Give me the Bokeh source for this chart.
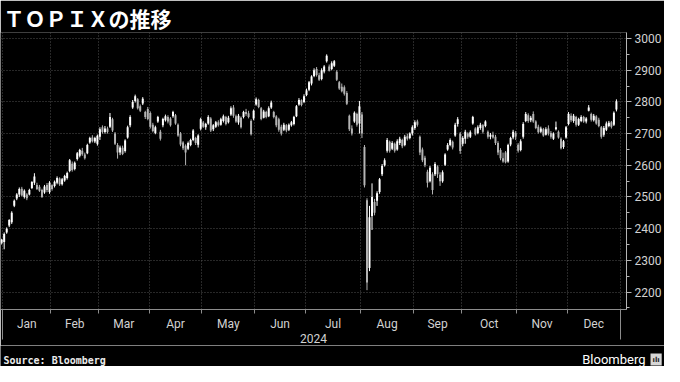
import pandas as pd
from bokeh.plotting import figure
from bokeh.layouts import column
from bokeh.models import (ColumnDataSource, Range1d, FixedTicker, SingleIntervalTicker,
                          Label, LinearAxis)
from bokeh.embed import file_html
from bokeh.resources import INLINE

# ---------------- data ----------------
title_text = "ＴＯＰＩＸの推移"
source_text = "Source: Bloomberg"
brand_text = "Bloomberg"
year_text = "2024"
month_names = ["Jan", "Feb", "Mar", "Apr", "May", "Jun",
               "Jul", "Aug", "Sep", "Oct", "Nov", "Dec"]

first_session = "2023-12-29"
last_calendar_session = "2024-12-30"
tse_holidays = ["2024-01-01", "2024-01-02", "2024-01-03", "2024-01-08",
                "2024-02-12", "2024-02-23", "2024-03-20", "2024-04-29",
                "2024-05-03", "2024-05-06", "2024-07-15", "2024-08-12",
                "2024-09-16", "2024-09-23", "2024-10-14", "2024-11-04"]

open_ = [2356, 2358, 2388, 2410, 2420, 2472, 2495, 2508, 2526, 2500,
         2508, 2508, 2528, 2545, 2538, 2532, 2522, 2514, 2538, 2516,
         2537, 2535, 2545, 2558, 2540, 2552, 2560, 2582, 2605, 2588,
         2620, 2630, 2646, 2634, 2638, 2672, 2688, 2675, 2668, 2690,
         2720, 2705, 2716, 2722, 2745, 2700, 2664, 2640, 2655, 2645,
         2688, 2726, 2782, 2803, 2808, 2786, 2795, 2768, 2778, 2765,
         2728, 2702, 2738, 2706, 2726, 2742, 2752, 2748, 2755, 2758,
         2728, 2700, 2672, 2662, 2652, 2664, 2680, 2686, 2665, 2715,
         2735, 2720, 2732, 2748, 2714, 2722, 2736, 2728, 2740, 2752,
         2736, 2760, 2782, 2755, 2735, 2750, 2752, 2768, 2764, 2740,
         2748, 2792, 2806, 2780, 2750, 2768, 2755, 2782, 2768, 2754,
         2745, 2722, 2712, 2726, 2712, 2726, 2730, 2755, 2792, 2805,
         2800, 2822, 2838, 2858, 2882, 2904, 2884, 2872, 2896, 2928,
         2912, 2904, 2914, 2895, 2862, 2848, 2846, 2828, 2756, 2716,
         2738, 2762, 2732, 2760, 2658, 2490, 2276, 2440, 2484, 2488,
         2516, 2572, 2600, 2646, 2674, 2652, 2668, 2650, 2670, 2680,
         2664, 2692, 2686, 2700, 2718, 2738, 2690, 2650, 2624, 2580,
         2550, 2572, 2572, 2596, 2570, 2550, 2602, 2650, 2664, 2674,
         2694, 2730, 2700, 2668, 2684, 2700, 2690, 2732, 2716, 2702,
         2718, 2726, 2724, 2706, 2690, 2696, 2690, 2670, 2648, 2622,
         2640, 2612, 2666, 2688, 2702, 2665, 2648, 2690, 2740, 2758,
         2742, 2762, 2738, 2722, 2706, 2714, 2696, 2716, 2702, 2684,
         2714, 2706, 2684, 2658, 2688, 2730, 2756, 2740, 2752, 2728,
         2740, 2752, 2738, 2772, 2762, 2742, 2754, 2744, 2720, 2696,
         2712, 2724, 2736, 2728, 2776]

high = [2368, 2388, 2404, 2430, 2455, 2492, 2512, 2530, 2532, 2524,
        2512, 2526, 2550, 2575, 2545, 2538, 2526, 2538, 2544, 2550,
        2540, 2552, 2565, 2562, 2560, 2570, 2580, 2620, 2612, 2612,
        2642, 2652, 2655, 2640, 2668, 2690, 2695, 2690, 2697, 2720,
        2726, 2724, 2722, 2765, 2750, 2705, 2670, 2662, 2662, 2682,
        2725, 2758, 2806, 2823, 2812, 2792, 2815, 2772, 2784, 2770,
        2734, 2725, 2756, 2712, 2750, 2760, 2758, 2752, 2772, 2762,
        2732, 2705, 2676, 2666, 2675, 2684, 2714, 2690, 2698, 2750,
        2740, 2734, 2758, 2752, 2730, 2740, 2742, 2750, 2760, 2756,
        2756, 2786, 2790, 2760, 2762, 2754, 2772, 2778, 2772, 2745,
        2776, 2814, 2810, 2784, 2775, 2772, 2786, 2804, 2772, 2758,
        2750, 2728, 2734, 2730, 2732, 2740, 2756, 2790, 2812, 2808,
        2824, 2842, 2866, 2884, 2906, 2910, 2892, 2906, 2916, 2950,
        2918, 2928, 2932, 2900, 2866, 2858, 2852, 2834, 2760, 2726,
        2770, 2766, 2803, 2768, 2664, 2496, 2472, 2543, 2494, 2518,
        2560, 2604, 2622, 2686, 2678, 2676, 2672, 2682, 2690, 2684,
        2696, 2700, 2704, 2726, 2742, 2744, 2694, 2656, 2630, 2586,
        2598, 2578, 2610, 2600, 2578, 2584, 2638, 2670, 2685, 2678,
        2734, 2752, 2705, 2692, 2712, 2704, 2710, 2756, 2720, 2726,
        2734, 2730, 2742, 2710, 2702, 2706, 2696, 2676, 2654, 2640,
        2645, 2668, 2690, 2712, 2708, 2670, 2682, 2736, 2768, 2764,
        2756, 2770, 2742, 2728, 2722, 2718, 2720, 2726, 2708, 2704,
        2738, 2710, 2688, 2680, 2724, 2768, 2764, 2762, 2756, 2750,
        2758, 2756, 2752, 2790, 2766, 2762, 2758, 2750, 2724, 2724,
        2738, 2740, 2740, 2770, 2808]

low = [2350, 2335, 2384, 2405, 2415, 2468, 2490, 2500, 2502, 2495,
       2490, 2505, 2525, 2538, 2522, 2516, 2497, 2510, 2515, 2510,
       2520, 2530, 2540, 2535, 2536, 2548, 2555, 2578, 2580, 2584,
       2615, 2625, 2630, 2618, 2635, 2668, 2672, 2670, 2662, 2680,
       2700, 2700, 2700, 2718, 2705, 2664, 2621, 2632, 2632, 2640,
       2684, 2720, 2778, 2798, 2776, 2768, 2790, 2746, 2742, 2716,
       2704, 2698, 2734, 2678, 2720, 2738, 2732, 2722, 2750, 2728,
       2690, 2660, 2648, 2600, 2648, 2660, 2676, 2664, 2656, 2710,
       2718, 2712, 2728, 2705, 2708, 2718, 2722, 2725, 2735, 2726,
       2732, 2756, 2750, 2734, 2728, 2716, 2748, 2756, 2748, 2694,
       2742, 2788, 2780, 2742, 2748, 2748, 2752, 2778, 2748, 2720,
       2706, 2694, 2708, 2704, 2708, 2722, 2726, 2752, 2788, 2786,
       2796, 2818, 2834, 2852, 2878, 2880, 2866, 2868, 2890, 2924,
       2896, 2900, 2910, 2866, 2838, 2830, 2820, 2790, 2708, 2694,
       2734, 2722, 2700, 2686, 2530, 2206, 2266, 2396, 2442, 2472,
       2510, 2566, 2596, 2640, 2640, 2648, 2640, 2646, 2664, 2654,
       2660, 2678, 2682, 2694, 2712, 2722, 2632, 2610, 2594, 2530,
       2546, 2508, 2566, 2560, 2535, 2545, 2598, 2646, 2660, 2650,
       2690, 2722, 2636, 2660, 2668, 2684, 2686, 2728, 2694, 2698,
       2712, 2700, 2720, 2684, 2682, 2684, 2664, 2632, 2616, 2608,
       2606, 2608, 2660, 2682, 2680, 2640, 2644, 2684, 2736, 2734,
       2736, 2734, 2714, 2700, 2702, 2690, 2694, 2694, 2684, 2680,
       2710, 2684, 2650, 2652, 2684, 2726, 2736, 2734, 2722, 2724,
       2736, 2734, 2732, 2770, 2738, 2738, 2728, 2720, 2684, 2690,
       2708, 2720, 2716, 2724, 2770]

close = [2365, 2383, 2400, 2427, 2450, 2488, 2508, 2525, 2505, 2520,
         2496, 2522, 2547, 2565, 2525, 2520, 2500, 2533, 2522, 2545,
         2525, 2548, 2560, 2540, 2556, 2566, 2576, 2616, 2585, 2608,
         2638, 2648, 2635, 2622, 2664, 2686, 2676, 2686, 2693, 2714,
         2705, 2716, 2705, 2752, 2710, 2668, 2640, 2656, 2636, 2678,
         2720, 2752, 2800, 2818, 2780, 2772, 2810, 2752, 2746, 2722,
         2708, 2720, 2752, 2684, 2746, 2755, 2738, 2726, 2768, 2732,
         2694, 2666, 2654, 2640, 2670, 2680, 2710, 2670, 2694, 2745,
         2722, 2730, 2752, 2710, 2726, 2736, 2726, 2745, 2755, 2730,
         2750, 2780, 2756, 2738, 2756, 2720, 2768, 2762, 2752, 2698,
         2772, 2808, 2784, 2746, 2770, 2752, 2780, 2798, 2752, 2726,
         2712, 2700, 2728, 2710, 2728, 2736, 2752, 2786, 2806, 2790,
         2818, 2836, 2862, 2880, 2900, 2885, 2870, 2900, 2912, 2946,
         2898, 2922, 2928, 2870, 2842, 2834, 2826, 2794, 2714, 2700,
         2766, 2728, 2786, 2700, 2537, 2230, 2436, 2500, 2450, 2512,
         2556, 2598, 2616, 2680, 2646, 2670, 2646, 2676, 2684, 2660,
         2690, 2684, 2700, 2720, 2736, 2728, 2640, 2616, 2600, 2545,
         2592, 2522, 2604, 2572, 2550, 2578, 2634, 2664, 2680, 2656,
         2728, 2745, 2645, 2686, 2706, 2690, 2704, 2752, 2698, 2720,
         2728, 2706, 2738, 2690, 2696, 2688, 2670, 2640, 2622, 2612,
         2610, 2664, 2686, 2706, 2690, 2646, 2676, 2730, 2762, 2740,
         2750, 2738, 2718, 2704, 2716, 2694, 2714, 2700, 2690, 2700,
         2720, 2688, 2654, 2676, 2720, 2762, 2742, 2756, 2728, 2746,
         2752, 2738, 2748, 2782, 2744, 2756, 2732, 2724, 2690, 2718,
         2732, 2734, 2722, 2766, 2802]

# ---------------- derived structures ----------------
sessions = pd.bdate_range(first_session, last_calendar_session, freq="C",
                          holidays=tse_holidays)
n = min(len(open_), len(high), len(low), len(close))
UP_COLOR, DOWN_COLOR = "#ffffff", "#b4b4b4"
src = ColumnDataSource(dict(
    x=list(range(n)),
    top=[max(open_[i], close[i]) for i in range(n)],
    bottom=[min(open_[i], close[i]) for i in range(n)],
    high=high[:n], low=low[:n],
    color=[UP_COLOR if close[i] >= open_[i] else DOWN_COLOR for i in range(n)],
))

bounds = []
for m in range(1, 13):
    idx = [k for k, d in enumerate(sessions) if d.year == 2024 and d.month == m]
    bounds.append(idx[0] - 0.5)
bounds_all = bounds + [len(sessions) - 0.5]
mids = [(bounds_all[k] + bounds_all[k + 1]) / 2 for k in range(12)]

# ---------------- main figure ----------------
FG = "#d2d2d2"
AXIS = "#8c8c8c"
GRID = "#505050"
W = 664
FOOT_H = 21
p = figure(width=W, height=366 - FOOT_H, output_backend="svg", toolbar_location=None,
           x_range=Range1d(-0.46, 248), y_range=Range1d(2145, 3019),
           y_axis_location="right", x_axis_location=None,
           title=title_text,
           background_fill_color="black", border_fill_color="black",
           outline_line_color=None,
           min_border_left=0, min_border_right=35,
           min_border_top=0, min_border_bottom=0)
p.frame_align = False

p.title.text_font = "Noto Sans CJK JP"
p.title.text_font_size = "21px"
p.title.text_font_style = "bold"
p.title.text_color = "white"
p.title.standoff = 0
p.title.offset = 3

p.segment(x0="x", y0="low", x1="x", y1="high", line_color="color",
          line_width=1, source=src)
p.vbar(x="x", width=0.78, top="top", bottom="bottom", fill_color="color",
       line_color=None, source=src)

# year separators: long ticks only at the year boundaries (closest to the frame)
sep_axis = LinearAxis(ticker=FixedTicker(ticks=[bounds_all[0], bounds_all[-1]]),
                      major_label_overrides={bounds_all[0]: "", bounds_all[-1]: ""},
                      major_label_text_font_size="0px", major_label_standoff=0,
                      major_tick_out=0, major_tick_in=-30,
                      major_tick_line_color=AXIS, minor_tick_line_color=None,
                      axis_line_color=None)
p.add_layout(sep_axis, "below")

# month axis
month_axis = LinearAxis(ticker=FixedTicker(ticks=mids, minor_ticks=bounds_all),
                        major_label_overrides={mids[k]: month_names[k] for k in range(12)},
                        major_tick_out=0, major_tick_in=0,
                        minor_tick_out=4, minor_tick_in=0,
                        minor_tick_line_color=AXIS, axis_line_color=AXIS,
                        major_label_standoff=3,
                        major_label_text_color=FG,
                        major_label_text_font="Roboto",
                        major_label_text_font_size="12px",
                        axis_label=year_text, axis_label_standoff=0,
                        axis_label_text_color=FG,
                        axis_label_text_font="Roboto",
                        axis_label_text_font_size="12px",
                        axis_label_text_font_style="normal")
p.add_layout(month_axis, "below")

# y axis (right)
ya = p.yaxis[0]
ya.ticker = SingleIntervalTicker(interval=100, num_minor_ticks=2)
ya.axis_line_color = "#b4b4b4"
ya.major_tick_line_color = "#b4b4b4"
ya.minor_tick_line_color = "#b4b4b4"
ya.major_tick_out = 5
ya.major_tick_in = 0
ya.minor_tick_out = 3
ya.minor_tick_in = 0
ya.major_label_standoff = 3
ya.major_label_text_color = FG
ya.major_label_text_font = "Roboto"
ya.major_label_text_font_size = "12px"

# grids
p.xgrid.ticker = FixedTicker(ticks=bounds_all)
for g in (p.xgrid[0], p.ygrid[0]):
    g.grid_line_color = GRID
    g.grid_line_dash = "1 2"
    g.grid_line_width = 1

# ---------------- footer ----------------
f = figure(width=W, height=FOOT_H, output_backend="svg", toolbar_location=None,
           x_range=Range1d(0, W), y_range=Range1d(0, FOOT_H),
           x_axis_location=None, y_axis_location=None,
           background_fill_color="black", border_fill_color="black",
           outline_line_color=None,
           min_border_left=0, min_border_right=0,
           min_border_top=0, min_border_bottom=0)
f.frame_align = False
f.grid.visible = False
f.add_layout(Label(x=3, y=6, text=source_text,
                   text_font="DejaVu Sans Mono", text_font_size="10px",
                   text_font_style="bold", text_color="#ececec",
                   text_baseline="alphabetic"))
f.add_layout(Label(x=645, y=7, text=brand_text,
                   text_font="Roboto", text_font_size="13px",
                   text_color="white", text_align="right",
                   text_baseline="alphabetic"))
f.add_layout(Label(x=650, y=7, text="ılı",
                   text_font="DejaVu Sans", text_font_size="7px",
                   text_font_style="bold", text_color="#222222",
                   background_fill_color="#d6d6d6", padding=2,
                   text_baseline="alphabetic"))

layout = column(p, f, spacing=0)
open("out.html", "w").write(file_html(layout, INLINE))
